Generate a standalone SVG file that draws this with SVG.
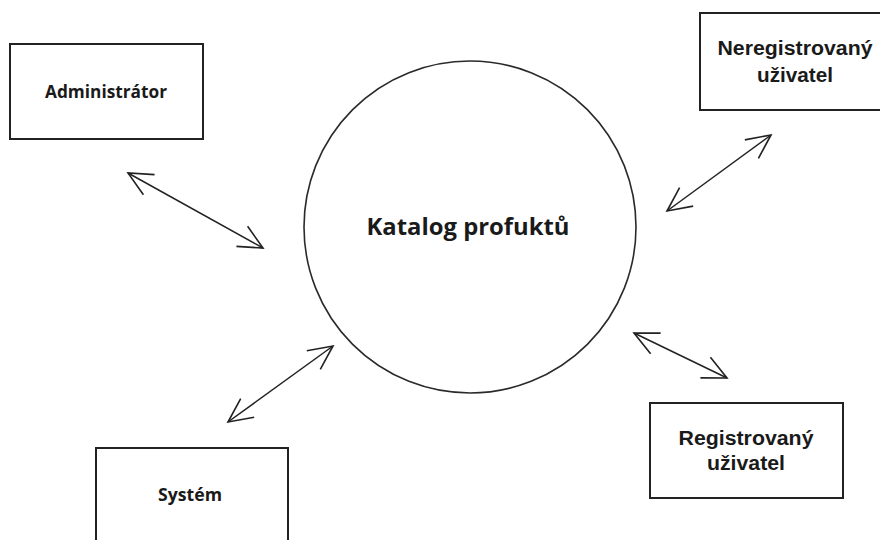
<svg xmlns="http://www.w3.org/2000/svg" width="880" height="540" viewBox="0 0 880 540">
  <style>
    .box { fill: #ffffff; stroke: #222222; stroke-width: 2; }
    .circ { fill: #ffffff; stroke: #2a2a2a; stroke-width: 1.6; }
    .cal { font-family: "Open Sans", "Noto Sans", sans-serif; font-weight: bold; fill: #1a1a1a; text-anchor: middle; }
    .ari { font-family: "Liberation Sans", Arial, sans-serif; font-weight: bold; fill: #1a1a1a; text-anchor: middle; }
    .conn { stroke: #222222; stroke-width: 1.5; fill: none; marker-start: url(#head); marker-end: url(#head); }
  </style>
  <defs>
    <marker id="head" viewBox="-2 -14 30 28" markerUnits="userSpaceOnUse" markerWidth="30" markerHeight="28" refX="24" refY="0" orient="auto-start-reverse">
      <path d="M0,-11.5 L24,0 L0,11.5" fill="none" stroke="#222222" stroke-width="1.6" stroke-linejoin="miter"/>
    </marker>
  </defs>
  <rect width="880" height="540" fill="#ffffff"/>

  <g id="connectors">
    <line class="conn" x1="128" y1="173" x2="263" y2="248"/>
    <line class="conn" x1="771" y1="135" x2="667" y2="211"/>
    <line class="conn" x1="333" y1="346" x2="228" y2="422"/>
    <line class="conn" x1="634" y1="333" x2="727" y2="378"/>
  </g>

  <g id="katalog">
    <circle class="circ" cx="470" cy="227" r="166"/>
    <text class="cal" x="468" y="235" font-size="23" textLength="203" lengthAdjust="spacingAndGlyphs">Katalog profuktů</text>
  </g>

  <g id="administrator">
    <rect class="box" x="10" y="44" width="193" height="95"/>
    <text class="cal" x="106" y="98" font-size="17" textLength="122" lengthAdjust="spacingAndGlyphs">Administrátor</text>
  </g>

  <g id="neregistrovany">
    <rect class="box" x="700" y="13" width="200" height="97"/>
    <text class="ari" x="795" y="55" font-size="20" textLength="155" lengthAdjust="spacingAndGlyphs">Neregistrovaný</text>
    <text class="ari" x="795" y="82" font-size="20" textLength="76" lengthAdjust="spacingAndGlyphs">uživatel</text>
  </g>

  <g id="registrovany">
    <rect class="box" x="650" y="403" width="193" height="95"/>
    <text class="ari" x="746" y="445" font-size="20" textLength="135" lengthAdjust="spacingAndGlyphs">Registrovaný</text>
    <text class="ari" x="746" y="470" font-size="20" textLength="78" lengthAdjust="spacingAndGlyphs">uživatel</text>
  </g>

  <g id="system">
    <rect class="box" x="96" y="448" width="192" height="120"/>
    <text class="cal" x="190" y="501" font-size="17" textLength="64" lengthAdjust="spacingAndGlyphs">Systém</text>
  </g>
</svg>
